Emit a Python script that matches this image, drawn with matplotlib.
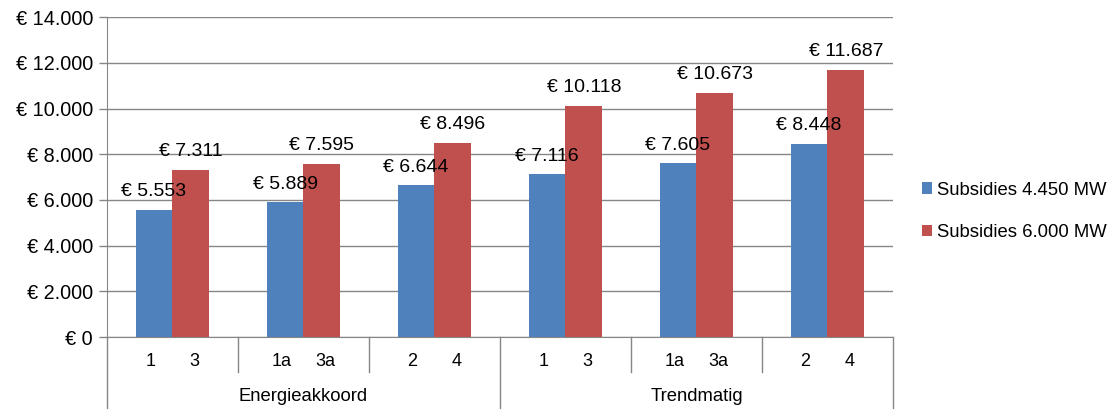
import matplotlib.pyplot as plt
import numpy as np

# data
groups = ['Energieakkoord', 'Trendmatig']
blue_labels = ['1', '1a', '2', '1', '1a', '2']
red_labels = ['3', '3a', '4', '3', '3a', '4']
subsidies_4450 = [5553, 5889, 6644, 7116, 7605, 8448]
subsidies_6000 = [7311, 7595, 8496, 10118, 10673, 11687]
series_names = ['Subsidies 4.450 MW', 'Subsidies 6.000 MW']

blue = '#4F81BD'
red = '#C0504D'
grey = '#868686'


def euro(v):
    # Dutch style thousands separator
    return '€ ' + f'{v:,.0f}'.replace(',', '.')


plt.rcParams['font.family'] = ['Liberation Sans', 'DejaVu Sans']

fig = plt.figure(figsize=(11.18, 4.09), dpi=100)
ax = fig.add_axes([0.0957, 0.176, 0.7030, 0.782])

x = np.arange(len(subsidies_4450))
w = 0.282
b1 = ax.bar(x - w / 2, subsidies_4450, w, color=blue, label=series_names[0], zorder=2)
b2 = ax.bar(x + w / 2, subsidies_6000, w, color=red, label=series_names[1], zorder=2)

# value labels above the bars
for bars, vals in ((b1, subsidies_4450), (b2, subsidies_6000)):
    for bar, v in zip(bars, vals):
        ax.annotate(euro(v), (bar.get_x() + bar.get_width() / 2, v),
                    xytext=(0, 7), textcoords='offset points',
                    ha='center', va='bottom', fontsize=14, color='black', zorder=3)

ax.set_xlim(-0.5, len(x) - 0.5)
ax.set_ylim(0, 14000)
ax.set_yticks(np.arange(0, 14001, 2000))
ax.set_yticklabels([euro(v) for v in np.arange(0, 14001, 2000)], fontsize=14.3)
ax.yaxis.grid(True, color=grey, linewidth=1, zorder=0)
ax.set_axisbelow(True)
ax.tick_params(axis='y', length=6, color=grey, width=1, pad=4)
ax.tick_params(axis='x', length=0, labelbottom=False)

for s in ('top', 'right'):
    ax.spines[s].set_visible(False)
ax.spines['left'].set_color(grey)
ax.spines['bottom'].set_color(grey)

# first level category labels
trans = ax.get_xaxis_transform()
for i in x:
    ax.text(i - 0.17, -0.078, blue_labels[i], transform=trans, ha='center', va='center', fontsize=13)
    ax.text(i + 0.17, -0.078, red_labels[i], transform=trans, ha='center', va='center', fontsize=13)

# separators below the axis
for i in range(len(x) + 1):
    edge = i - 0.5
    y_end = -0.225 if i % 3 == 0 else -0.11
    ax.plot([edge, edge], [0, y_end], transform=trans, color=grey, lw=1, clip_on=False)

# second level group labels
for g, name in enumerate(groups):
    ax.text(g * 3 + 1, -0.185, name, transform=trans, ha='center', va='center', fontsize=13.3)

leg = fig.legend(loc='center left', bbox_to_anchor=(0.810, 0.483), frameon=False,
                 fontsize=13.3, handlelength=0.55, handleheight=0.55, handletextpad=0.25,
                 labelspacing=1.4)

fig.savefig('out.png', dpi=100)
